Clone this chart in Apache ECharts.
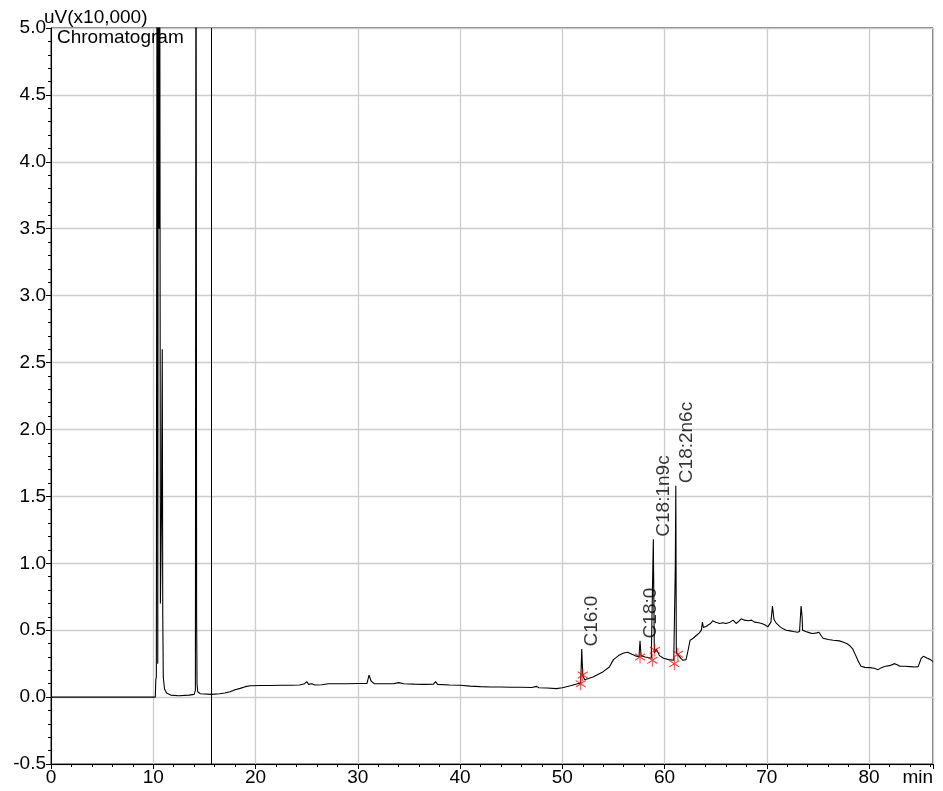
<!DOCTYPE html>
<html>
<head>
<meta charset="utf-8">
<script src="https://cdn.jsdelivr.net/npm/echarts@6/dist/echarts.min.js"></script>
<style>
html,body{margin:0;padding:0;background:#fff;}
#chart{width:943px;height:791px;}
</style>
</head>
<body>
<div id="chart"></div>
<script>
// Retention time (min) and signal (uV x10,000)
var traceTime = [
  0, 10.2, 10.25, 10.3, 10.38, 10.44, 10.5, 10.58, 10.62, 10.7, 10.8, 10.88, 10.93, 10.98, 11.1, 11.3, 11.7, 12.5, 13.5, 14.0,
  14.12, 14.18, 14.24, 14.28, 14.35, 14.6, 15.7, 16.5, 17.0, 17.5, 18.0, 18.5, 19.0, 19.5, 20.5, 21.5, 22.5, 23.5, 24.3, 24.8,
  25.0, 25.2, 25.5, 25.8, 26.5, 27.1, 28, 29, 30, 30.9, 31.1, 31.3, 31.6, 32.5, 33.5, 34, 34.5, 35.5, 36.5, 37.4,
  37.6, 37.8, 39, 40, 41, 42, 43, 44, 45, 46, 47, 47.5, 47.7, 48.5, 49.4, 50.0, 50.8, 51.5, 51.8, 51.9,
  52.0, 52.2, 53.0, 54.0, 54.6, 55.0, 55.5, 56.0, 56.4, 56.8, 57.1, 57.5, 57.6, 57.7, 58.1, 58.7, 58.85, 58.9, 59.0, 59.2,
  59.5, 59.9, 60.4, 60.9, 61.0, 61.05, 61.1, 61.15, 61.3, 61.6, 61.8, 62.1, 62.3, 62.5, 62.8, 63.1, 63.4, 63.6, 63.7, 63.8,
  63.9, 64.1, 64.3, 64.5, 64.7, 65.0, 65.4, 65.7, 66.0, 66.4, 66.7, 67.0, 67.3, 67.5, 67.8, 68.2, 68.5, 68.8, 69.2, 69.5,
  69.8, 70.1, 70.4, 70.55, 70.7, 70.9, 71.3, 71.6, 71.9, 72.3, 72.6, 73.0, 73.2, 73.35, 73.45, 73.5, 73.8, 74.2, 74.5, 74.9,
  75.1, 75.3, 75.5, 76.0, 76.5, 77.1, 77.5, 77.8, 78.1, 78.4, 78.7, 78.9, 79.2, 79.6, 80.1, 80.5, 80.9, 81.2, 81.6, 82.0,
  82.5, 82.8, 83.0, 83.5, 84.0, 84.5, 84.8, 85.1, 85.3, 85.7, 86.0, 86.25
];
var traceSignal = [
  0, 0, 0.13, 0.15, 7, 0.25, 7, 3.5, 7, 0.7, 1.35, 2.6, 0.6, 0.15, 0.06, 0.03, 0.015, 0.01, 0.015, 0.02,
  0.05, 7, 0.6, 0.1, 0.04, 0.025, 0.02, 0.025, 0.03, 0.04, 0.055, 0.065, 0.078, 0.085, 0.087, 0.087, 0.088, 0.088, 0.09, 0.1,
  0.115, 0.095, 0.1, 0.09, 0.092, 0.1, 0.1, 0.1, 0.102, 0.102, 0.165, 0.12, 0.1, 0.1, 0.1, 0.108, 0.1, 0.097, 0.095, 0.097,
  0.115, 0.095, 0.09, 0.088, 0.082, 0.078, 0.075, 0.075, 0.073, 0.073, 0.072, 0.08, 0.07, 0.068, 0.063, 0.07, 0.085, 0.1, 0.105, 0.36,
  0.16, 0.13, 0.15, 0.19, 0.225, 0.28, 0.31, 0.33, 0.335, 0.32, 0.31, 0.30, 0.42, 0.31, 0.30, 0.29, 0.28, 1.18, 0.33, 0.36,
  0.31, 0.29, 0.28, 0.275, 0.27, 0.97, 1.58, 0.33, 0.33, 0.29, 0.275, 0.28, 0.35, 0.425, 0.44, 0.46, 0.48, 0.5, 0.56, 0.52,
  0.51, 0.53, 0.54, 0.55, 0.57, 0.56, 0.55, 0.555, 0.55, 0.56, 0.575, 0.55, 0.57, 0.585, 0.575, 0.57, 0.575, 0.56, 0.555, 0.55,
  0.54, 0.525, 0.56, 0.68, 0.58, 0.555, 0.525, 0.51, 0.5, 0.495, 0.49, 0.485, 0.49, 0.68, 0.6, 0.5, 0.49, 0.48, 0.475, 0.48,
  0.485, 0.46, 0.44, 0.43, 0.425, 0.42, 0.41, 0.4, 0.385, 0.36, 0.31, 0.275, 0.23, 0.222, 0.22, 0.215, 0.205, 0.22, 0.23, 0.235,
  0.25, 0.24, 0.23, 0.23, 0.228, 0.225, 0.228, 0.29, 0.305, 0.29, 0.28, 0.265
];
// Identified peaks: name, retention time, apex height
var peakNames = ['C16:0', 'C18:0', 'C18:1n9c', 'C18:2n6c'];
var peakTimes = [51.9, 57.6, 58.9, 61.1];
var peakHeights = [0.36, 0.42, 1.18, 1.58];
// Integration start/end markers (red asterisks)
var markerTimes = [51.8, 52.0, 57.6, 58.8, 59.05, 60.95, 61.3];
var markerValues = [0.10, 0.165, 0.30, 0.275, 0.35, 0.25, 0.32];
// Vertical event line
var eventTime = 15.7;
// Axes
var xMin = 0, xMax = 86.25, xStep = 10;
var yMin = -0.5, yMax = 5.0, yStep = 0.5;

var FONT = '"Liberation Sans", Arial, sans-serif';
var traceData = traceTime.map(function (t, i) { return [t, traceSignal[i]]; });
var markerData = markerTimes.map(function (t, i) { return [t, markerValues[i]]; });
var labelData = peakNames.map(function (n, i) { return { name: n, value: [peakTimes[i], peakHeights[i]] }; });

var chart = echarts.init(document.getElementById('chart'), null, { renderer: 'canvas' });
chart.setOption({
  backgroundColor: '#fff',
  animation: false,
  grid: { left: 51, top: 28, width: 882, height: 736, show: true, borderColor: '#000', borderWidth: 1, backgroundColor: 'transparent' },
  xAxis: [{
    type: 'value', min: xMin, max: xMax, interval: xStep, position: 'bottom',
    axisLine: { show: true, onZero: false, lineStyle: { color: '#000', width: 1 } },
    axisTick: { show: true, length: 5, lineStyle: { color: '#000' } },
    splitLine: { show: true, lineStyle: { color: '#cccccc', width: 1.3 } },
    axisLabel: { color: '#000', fontSize: 19, fontFamily: FONT, margin: 4,
      formatter: function (v) { return Math.abs(v % 10) < 1e-9 ? String(v) : ''; } }
  }, {
    type: 'value', min: xMin, max: xMax, interval: 2, position: 'bottom', gridIndex: 0,
    axisLine: { show: false, onZero: false },
    axisTick: { show: true, length: 3, lineStyle: { color: '#000' } },
    splitLine: { show: false },
    axisLabel: { show: false }
  }],
  yAxis: {
    type: 'value', min: yMin, max: yMax, interval: yStep,
    axisLine: { show: true, onZero: false, lineStyle: { color: '#000', width: 1 } },
    axisTick: { show: true, length: 5, lineStyle: { color: '#000' } },
    minorTick: { show: true, splitNumber: 5, length: 3, lineStyle: { color: '#000' } },
    splitLine: { show: true, lineStyle: { color: '#cccccc', width: 1.3 } },
    axisLabel: { color: '#000', fontSize: 19, fontFamily: FONT, margin: 5,
      formatter: function (v) { return v.toFixed(1); } }
  },
  series: [{
    type: 'line', data: traceData, showSymbol: false, symbol: 'none', clip: true,
    lineStyle: { color: '#000', width: 1.1 },
    markLine: {
      silent: true, symbol: 'none', label: { show: false },
      lineStyle: { color: '#000', width: 1, type: 'solid' },
      data: [{ xAxis: eventTime }]
    },
    z: 3
  }, {
    type: 'scatter', data: markerData,
    symbol: 'path://M5,0L5,12M0,3L10,9M0,9L10,3',
    symbolSize: [10, 13],
    itemStyle: { color: 'rgba(0,0,0,0)', borderColor: '#ff0000', borderWidth: 1 },
    z: 4
  }, {
    type: 'scatter', data: labelData, symbolSize: 1,
    itemStyle: { color: 'rgba(0,0,0,0)' },
    label: { show: true, formatter: '{b}', rotate: 90, align: 'left', verticalAlign: 'middle',
      position: [11, -2], fontSize: 19, fontFamily: FONT, color: '#000' },
    z: 5
  }],
  graphic: [
    { type: 'text', left: 44, top: 8, style: { text: 'uV(x10,000)', font: '19px ' + FONT, fill: '#000' }, z: 10 },
    { type: 'text', left: 57, top: 28, style: { text: 'Chromatogram', font: '19px ' + FONT, fill: '#000' }, z: 10 },
    { type: 'text', right: 10, top: 768, style: { text: 'min', font: '19px ' + FONT, fill: '#000' }, z: 10 }
  ]
});
</script>
</body>
</html>
